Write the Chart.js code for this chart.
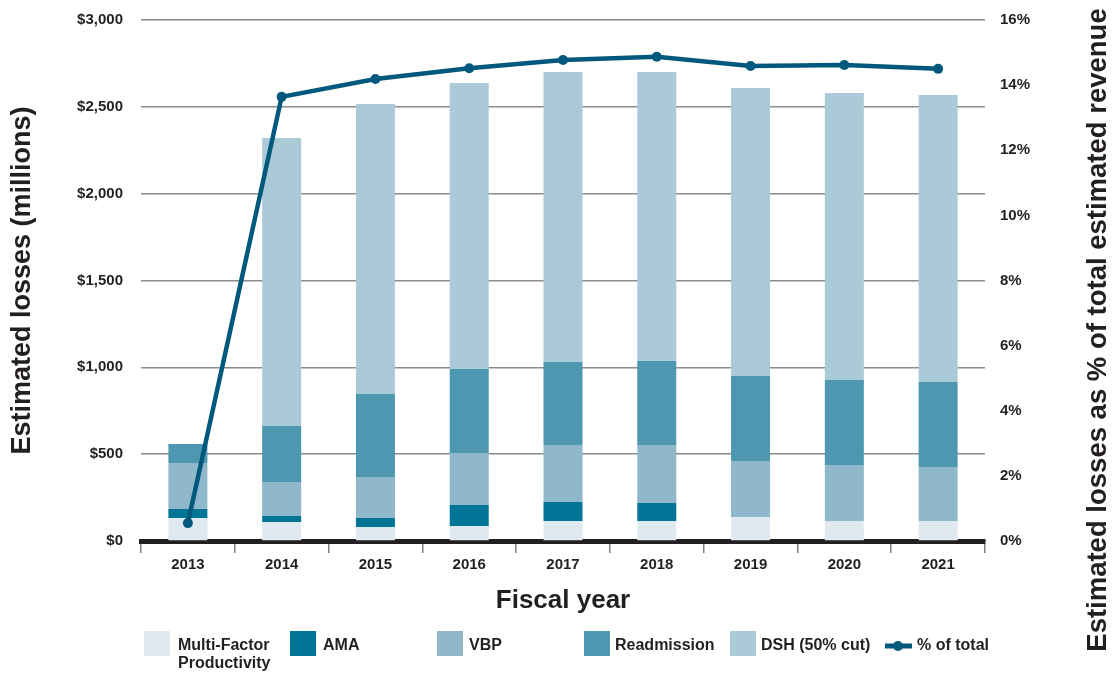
<!DOCTYPE html>
<html>
<head>
<meta charset="utf-8">
<title>Estimated losses by fiscal year</title>
<script src="https://cdn.jsdelivr.net/npm/chart.js@4.4.1/dist/chart.umd.min.js"></script>
<style>
  html, body { margin: 0; padding: 0; background: #fff; }
  #wrap { width: 1114px; height: 674px; }
</style>
</head>
<body>
<div id="wrap"><canvas id="losses" width="1114" height="674"></canvas></div>
<script>
// data ($ millions)
const years = ['2013', '2014', '2015', '2016', '2017', '2018', '2019', '2020', '2021'];
const multiFactor = [132, 109, 81, 86, 115, 115, 138, 115, 115];
const ama = [52, 35, 51, 121, 110, 104, 0, 0, 0];
const vbp = [265, 196, 236, 300, 328, 334, 323, 323, 311];
const readmission = [110, 322, 478, 483, 478, 483, 489, 489, 490];
const dsh = [0, 1658, 1670, 1647, 1669, 1664, 1658, 1653, 1652];
// % of total estimated revenue
const pctOfTotal = [0.55, 13.64, 14.19, 14.52, 14.77, 14.87, 14.59, 14.62, 14.5];

const ink = '#231f20';
const font = 'Liberation Sans, Arial, Helvetica, sans-serif';

function barSet(label, values, color) {
  return {
    type: 'bar',
    label: label,
    data: values,
    backgroundColor: color,
    stack: 'losses',
    barPercentage: 0.416,
    categoryPercentage: 1,
    order: 1
  };
}

// legend boxes laid out like the original
const legendPlugin = {
  id: 'bottomLegend',
  afterDraw(chart) {
    const ctx = chart.ctx;
    const boxX = [144, 290, 437, 584, 730];
    const textX = [178, 323, 469, 615, 761];
    ctx.save();
    ctx.font = 'bold 16px ' + font;
    ctx.fillStyle = ink;
    ctx.textBaseline = 'middle';
    ctx.textAlign = 'left';
    let b = 0;
    chart.data.datasets.forEach(ds => {
      if (ds.type === 'bar') {
        ctx.fillStyle = ds.backgroundColor;
        ctx.fillRect(boxX[b], 631, 26, 25);
        ctx.fillStyle = ink;
        ds.label.split('\n').forEach((line, i) => ctx.fillText(line, textX[b], 646 + i * 18));
        b++;
      } else {
        ctx.strokeStyle = ds.borderColor;
        ctx.lineWidth = 5;
        ctx.beginPath();
        ctx.moveTo(885, 646);
        ctx.lineTo(912, 646);
        ctx.stroke();
        ctx.fillStyle = ds.borderColor;
        ctx.beginPath();
        ctx.arc(898, 646, 5, 0, Math.PI * 2);
        ctx.fill();
        ctx.fillStyle = ink;
        ctx.fillText(ds.label, 917, 646);
      }
    });
    ctx.restore();
  }
};

// right axis title reads bottom-to-top in the original
const rightTitlePlugin = {
  id: 'rightTitle',
  afterDraw(chart) {
    const ctx = chart.ctx;
    ctx.save();
    ctx.translate(1098, 330);
    ctx.rotate(-Math.PI / 2);
    ctx.font = 'bold 27.5px ' + font;
    ctx.fillStyle = ink;
    ctx.textAlign = 'center';
    ctx.textBaseline = 'middle';
    ctx.fillText('Estimated losses as % of total estimated revenue', 0, 0);
    ctx.restore();
  }
};

new Chart(document.getElementById('losses'), {
  data: {
    labels: years,
    datasets: [
      {
        type: 'line',
        label: '% of total',
        data: pctOfTotal,
        yAxisID: 'y2',
        borderColor: '#00587c',
        backgroundColor: '#00587c',
        borderWidth: 4.5,
        pointRadius: 5,
        pointBackgroundColor: '#00587c',
        pointBorderWidth: 0,
        tension: 0,
        order: 0
      },
      barSet('Multi-Factor\nProductivity', multiFactor, '#e0e9f0'),
      barSet('AMA', ama, '#007596'),
      barSet('VBP', vbp, '#8fb8ca'),
      barSet('Readmission', readmission, '#4e97b1'),
      barSet('DSH (50% cut)', dsh, '#abcad7')
    ]
  },
  options: {
    responsive: false,
    animation: false,
    devicePixelRatio: 1,
    layout: { padding: { top: 20 }, autoPadding: false },
    plugins: {
      legend: { display: false },
      tooltip: { enabled: false }
    },
    scales: {
      x: {
        stacked: true,
        grid: { offset: true, drawOnChartArea: false, drawTicks: true, tickLength: 12, color: '#808080', lineWidth: 1.5 },
        border: { display: true, color: ink, width: 5 },
        ticks: { color: ink, font: { family: font, size: 15, weight: 'bold' }, padding: 3 },
        title: { display: true, text: 'Fiscal year', color: ink, font: { family: font, size: 26, weight: 'bold' }, padding: { bottom: 58 } },
        afterFit(s) { s.height = 133; }
      },
      y: {
        stacked: true,
        min: 0,
        max: 3000,
        ticks: {
          stepSize: 500,
          color: ink,
          padding: 0,
          font: { family: font, size: 15, weight: 'bold' },
          callback: v => '$' + v.toLocaleString('en-US')
        },
        // invisible tick marks give the gap between labels and plot
        grid: { color: '#8c8c8c', lineWidth: 1.5, drawTicks: true, tickLength: 18, tickColor: 'rgba(0,0,0,0)' },
        border: { display: false },
        title: { display: true, text: 'Estimated losses (millions)', color: ink, font: { family: font, size: 27, weight: 'bold' }, padding: { top: 6 } },
        afterFit(s) { s.width = 141; }
      },
      y2: {
        position: 'right',
        min: 0,
        max: 16,
        ticks: {
          stepSize: 2,
          color: ink,
          padding: 0,
          font: { family: font, size: 15, weight: 'bold' },
          callback: v => v + '%'
        },
        grid: { drawOnChartArea: false, drawTicks: true, tickLength: 15, tickColor: 'rgba(0,0,0,0)' },
        border: { display: false },
        afterFit(s) { s.width = 129; }
      }
    }
  },
  plugins: [legendPlugin, rightTitlePlugin]
});
</script>
</body>
</html>
